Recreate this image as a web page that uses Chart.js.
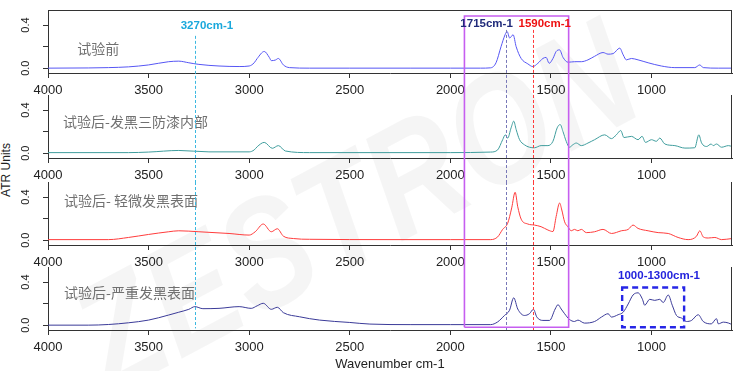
<!DOCTYPE html>
<html><head><meta charset="utf-8">
<script src="https://cdn.jsdelivr.net/npm/chart.js@4.4.0/dist/chart.umd.min.js"></script>
<style>
html,body{margin:0;padding:0;background:#fff;}
#wrap{position:relative;width:756px;height:371px;overflow:hidden;background:#fff;font-family:'Liberation Sans',Arial,sans-serif;}
#wrap canvas{position:absolute;left:0;}
#wm{position:absolute;left:355px;top:205px;transform:translate(-50%,-50%) rotate(-28deg) scaleY(1.25);font:italic bold 125px 'Liberation Sans',Arial,sans-serif;color:rgba(0,0,0,0.04);white-space:nowrap;letter-spacing:2px;}
#ytitle{position:absolute;left:6px;top:170px;transform:translate(-50%,-50%) rotate(-90deg);font:12px 'Liberation Sans',Arial,sans-serif;color:#222;white-space:nowrap;}
</style></head>
<body>
<div id="wrap"><div id="wm">ZESTRON</div><div id="ytitle">ATR Units</div></div>
<script>
// ---------- data ----------
const panelNames = ['试验前', '试验后-发黑三防漆内部', '试验后- 轻微发黑表面', '试验后-严重发黑表面'];
const xTicks = [4000, 3500, 3000, 2500, 2000, 1500, 1000];
const yTicks = [0, 0.2, 0.4];
const yTickLabels = [['0.0', 0], ['0.4', 0.4]];
// [wavenumber, ATR units]
const spec1 = [[4000,0],[3800,0.002],[3700,0.005],[3600,0.012],[3500,0.03],[3400,0.06],[3350,0.065],[3300,0.05],[3250,0.035],[3150,0.02],[3050,0.015],[3000,0.02],[2975,0.05],[2960,0.09],[2925,0.155],[2900,0.1],[2890,0.07],[2870,0.075],[2855,0.09],[2830,0.03],[2800,0.005],[2700,0],[2500,0],[2200,0],[2000,0],[1850,0],[1800,0.003],[1773,0.05],[1748,0.2],[1728,0.31],[1718,0.34],[1705,0.28],[1688,0.31],[1673,0.2],[1648,0.09],[1615,0.04],[1590,0.015],[1565,0.045],[1540,0.09],[1524,0.1],[1509,0.045],[1490,0.09],[1474,0.155],[1457,0.17],[1440,0.1],[1415,0.055],[1383,0.06],[1349,0.06],[1316,0.077],[1283,0.11],[1241,0.145],[1216,0.13],[1191,0.135],[1158,0.186],[1141,0.124],[1125,0.077],[1100,0.09],[1067,0.077],[1017,0.05],[951,0.02],[884,0.005],[785,0.005],[760,0.03],[743,0.005],[668,0],[600,0]];
const spec2 = [[4000,0.005],[3600,0.005],[3500,0.01],[3350,0.025],[3200,0.012],[3000,0.012],[2975,0.03],[2960,0.06],[2925,0.1],[2885,0.045],[2855,0.07],[2820,0.02],[2700,0.005],[2300,0.005],[2000,0.005],[1800,0.01],[1765,0.03],[1740,0.125],[1727,0.17],[1715,0.14],[1698,0.235],[1685,0.297],[1673,0.22],[1656,0.125],[1632,0.078],[1607,0.055],[1582,0.05],[1549,0.07],[1515,0.07],[1490,0.11],[1469,0.235],[1454,0.266],[1440,0.2],[1424,0.11],[1408,0.055],[1391,0.078],[1374,0.094],[1349,0.07],[1316,0.094],[1283,0.125],[1233,0.17],[1199,0.135],[1175,0.17],[1153,0.21],[1137,0.145],[1100,0.156],[1067,0.125],[1047,0.156],[1030,0.1],[1000,0.125],[976,0.11],[959,0.14],[934,0.085],[884,0.07],[834,0.047],[785,0.05],[765,0.17],[751,0.094],[726,0.062],[704,0.085],[693,0.07],[677,0.085],[652,0.055],[618,0.07],[600,0.062]];
const spec3 = [[4000,0.005],[3700,0.005],[3600,0.025],[3500,0.053],[3400,0.078],[3350,0.087],[3250,0.078],[3100,0.062],[3000,0.047],[2970,0.078],[2930,0.15],[2890,0.078],[2860,0.106],[2830,0.037],[2780,0.015],[2700,0.008],[2300,0.005],[2000,0.005],[1800,0.005],[1765,0.03],[1740,0.1],[1715,0.157],[1695,0.3],[1678,0.445],[1665,0.31],[1648,0.195],[1615,0.15],[1582,0.14],[1549,0.125],[1515,0.094],[1490,0.08],[1474,0.22],[1457,0.345],[1446,0.28],[1432,0.17],[1416,0.125],[1399,0.087],[1383,0.1],[1366,0.087],[1349,0.1],[1324,0.07],[1283,0.078],[1241,0.1],[1199,0.062],[1150,0.087],[1116,0.1],[1092,0.14],[1067,0.109],[1017,0.087],[967,0.07],[917,0.062],[868,0.025],[818,0.005],[777,0.035],[760,0.087],[743,0.03],[718,0.02],[685,0.025],[652,0.005],[600,0.015]];
const spec4 = [[4000,0],[3800,0],[3700,0.006],[3600,0.022],[3500,0.047],[3400,0.094],[3350,0.12],[3300,0.147],[3270,0.172],[3230,0.153],[3150,0.156],[3050,0.172],[2990,0.156],[2960,0.18],[2930,0.203],[2890,0.147],[2860,0.166],[2830,0.116],[2750,0.078],[2650,0.047],[2500,0.025],[2400,0.01],[2200,0.005],[2000,0.005],[1800,0.005],[1765,0.03],[1731,0.09],[1706,0.138],[1685,0.254],[1665,0.15],[1632,0.09],[1607,0.106],[1587,0.147],[1570,0.075],[1540,0.044],[1507,0.044],[1479,0.15],[1465,0.19],[1449,0.15],[1432,0.106],[1408,0.053],[1383,0.034],[1366,0.047],[1333,0.019],[1283,0.034],[1249,0.075],[1216,0.106],[1199,0.075],[1166,0.097],[1141,0.12],[1116,0.197],[1092,0.28],[1067,0.3],[1045,0.24],[1034,0.185],[1009,0.24],[984,0.23],[959,0.24],[942,0.21],[917,0.28],[897,0.185],[876,0.09],[851,0.066],[826,0.034],[801,0.044],[768,0.097],[743,0.034],[703,0.012],[677,0.06],[668,0.012],[643,0.028],[618,0.02],[600,0.005]];
const spectra = [spec1, spec2, spec3, spec4];
// annotations: marked wavenumbers (positions as drawn in the reference)
const markers = [3270, 1725, 1590];
const markerLabels = ['3270cm-1', '1715cm-1', '1590cm-1'];
const boxRange = [1930, 1412];
const zoomBoxRange = [1146, 838];
const zoomBoxLabel = '1000-1300cm-1';

// ---------- styles / layout ----------
const lineColors = ['#5656f4', '#3f9d9d', '#ff3c3c', '#3a3a98'];
const markerColors = ['#3cb8e0', '#7878b8', '#ff3a3a'];
const markerTextColors = ['#1aa8dc', '#1f2a7a', '#ee1111'];
const markerLabelPos = [[3210, 0.39], [1820, 0.41], [1531, 0.41]];
const markerStart = [0.30, 0.355, 0.355];
const markerEnd = [-0.03, -0.06, -0.06];
const labelPos = [[3855, 0.185], [3925, 0.29], [3920, 0.37], [3920, 0.30]];
const layoutP = [
  {top: 0, h: 95, padTop: 10, xh: 22},
  {top: 95, h: 87, padTop: 0, xh: 24},
  {top: 182, h: 85, padTop: 0, xh: 22},
  {top: 267, h: 104, padTop: 0, xh: 41}
];
const FONT = "'Liberation Sans', Arial, sans-serif";

const overlay = {
  id: 'overlay',
  afterDraw(chart, args, opts) {
    const i = opts.panel;
    const ctx = chart.ctx, ca = chart.chartArea;
    const xs = chart.scales.x, ys = chart.scales.y;
    const X = v => xs.getPixelForValue(v), Y = v => ys.getPixelForValue(v);
    const H = chart.height;
    ctx.save();
    // box (right side always, top only for first panel)
    ctx.strokeStyle = '#333'; ctx.lineWidth = 1; ctx.setLineDash([]);
    ctx.beginPath();
    ctx.moveTo(Math.round(ca.right) - 0.5, ca.top); ctx.lineTo(Math.round(ca.right) - 0.5, ca.bottom);
    if (i === 0) { ctx.moveTo(ca.left, Math.round(ca.top) + 0.5); ctx.lineTo(ca.right, Math.round(ca.top) + 0.5); }
    ctx.stroke();
    // y tick labels (rotated)
    ctx.fillStyle = '#222'; ctx.font = '11px ' + FONT; ctx.textAlign = 'center'; ctx.textBaseline = 'middle';
    yTickLabels.forEach(([t, v]) => {
      ctx.save(); ctx.translate(26, Y(v)); ctx.rotate(-Math.PI / 2); ctx.fillText(t, 0, 0); ctx.restore();
    });
    // panel name
    ctx.fillStyle = '#707070'; ctx.font = "14px 'Noto Sans CJK SC', sans-serif"; ctx.textAlign = 'left';
    ctx.fillText(panelNames[i], X(labelPos[i][0]), Y(labelPos[i][1]));
    // dashed marker lines
    ctx.lineWidth = 1; ctx.setLineDash([3, 2]);
    markers.forEach((wn, j) => {
      const x = Math.round(X(wn)) + 0.5;
      const y0 = i === 0 ? Y(markerStart[j]) : 0;
      const y1 = i === 3 ? Y(markerEnd[j]) : H;
      ctx.strokeStyle = markerColors[j];
      ctx.beginPath(); ctx.moveTo(x, y0); ctx.lineTo(x, y1); ctx.stroke();
    });
    // magenta box spanning panels
    ctx.setLineDash([]); ctx.strokeStyle = '#c65ef0'; ctx.lineWidth = 1.6;
    const bx0 = X(boxRange[0]), bx1 = X(boxRange[1]);
    const by0 = i === 0 ? Y(0.484) : 0;
    const by1 = i === 3 ? Y(-0.02) : H;
    ctx.beginPath();
    ctx.moveTo(bx0, by1); ctx.lineTo(bx0, by0);
    if (i === 0) ctx.lineTo(bx1, by0); else ctx.moveTo(bx1, by0);
    ctx.lineTo(bx1, by1);
    if (i === 3) ctx.lineTo(bx0, by1);
    ctx.stroke();
    // marker labels
    if (i === 0) {
      ctx.font = 'bold 11.5px ' + FONT; ctx.textAlign = 'center'; ctx.textBaseline = 'middle';
      markerLabels.forEach((t, j) => {
        ctx.fillStyle = markerTextColors[j];
        ctx.fillText(t, X(markerLabelPos[j][0]), Y(markerLabelPos[j][1]));
      });
    }
    // dashed zoom box
    if (i === 3) {
      ctx.strokeStyle = '#2626e6'; ctx.lineWidth = 2.4; ctx.setLineDash([6, 4]);
      const zx0 = X(zoomBoxRange[0]), zx1 = X(zoomBoxRange[1]);
      const zy0 = Y(0.35), zy1 = Y(-0.02);
      ctx.strokeRect(zx0, zy0, zx1 - zx0, zy1 - zy0);
      ctx.setLineDash([]);
      ctx.fillStyle = '#2323dd'; ctx.font = 'bold 11.5px ' + FONT; ctx.textAlign = 'center';
      ctx.fillText(zoomBoxLabel, X(963), Y(0.46));
    }
    ctx.restore();
  }
};

const wrap = document.getElementById('wrap');
function makePanel(i) {
  const L = layoutP[i];
  const c = document.createElement('canvas');
  c.width = 756; c.height = L.h;
  c.style.top = L.top + 'px'; c.style.width = '756px'; c.style.height = L.h + 'px';
  wrap.appendChild(c);
  new Chart(c, {
    type: 'line',
    data: {datasets: [{
      data: spectra[i].map(p => ({x: p[0], y: p[1]})),
      borderColor: lineColors[i], borderWidth: 1, pointRadius: 0,
      cubicInterpolationMode: 'monotone', fill: false
    }]},
    options: {
      responsive: false, animation: false, devicePixelRatio: 1,
      layout: {padding: {top: L.padTop, right: 24, left: 0, bottom: 0}},
      plugins: {legend: {display: false}, tooltip: {enabled: false}, overlay: {panel: i}},
      scales: {
        x: {
          type: 'linear', reverse: true, min: 600, max: 4000,
          afterBuildTicks: s => { s.ticks = xTicks.map(v => ({value: v})); },
          afterFit: s => { s.height = L.xh; },
          ticks: {autoSkip: false, maxRotation: 0, minRotation: 0, padding: 5, color: '#222',
                  font: {size: 13, family: FONT}, callback: v => String(v)},
          grid: {drawOnChartArea: false, drawTicks: true, tickLength: 5, color: '#333'},
          border: {display: true, color: '#333'},
          title: i === 3 ? {display: true, text: 'Wavenumber cm-1', color: '#222',
                  font: {size: 13, family: FONT}, padding: {top: 0, bottom: -1}} : {display: false}
        },
        y: {
          min: -0.045, max: 0.54,
          afterBuildTicks: s => { s.ticks = yTicks.map(v => ({value: v})); },
          afterFit: s => { s.width = 48; },
          ticks: {display: false},
          grid: {drawOnChartArea: false, drawTicks: true, tickLength: 5, color: '#333'},
          border: {display: true, color: '#333'}
        }
      }
    },
    plugins: [overlay]
  });
}
[0, 1, 2, 3].forEach(makePanel);
</script>
</body></html>
